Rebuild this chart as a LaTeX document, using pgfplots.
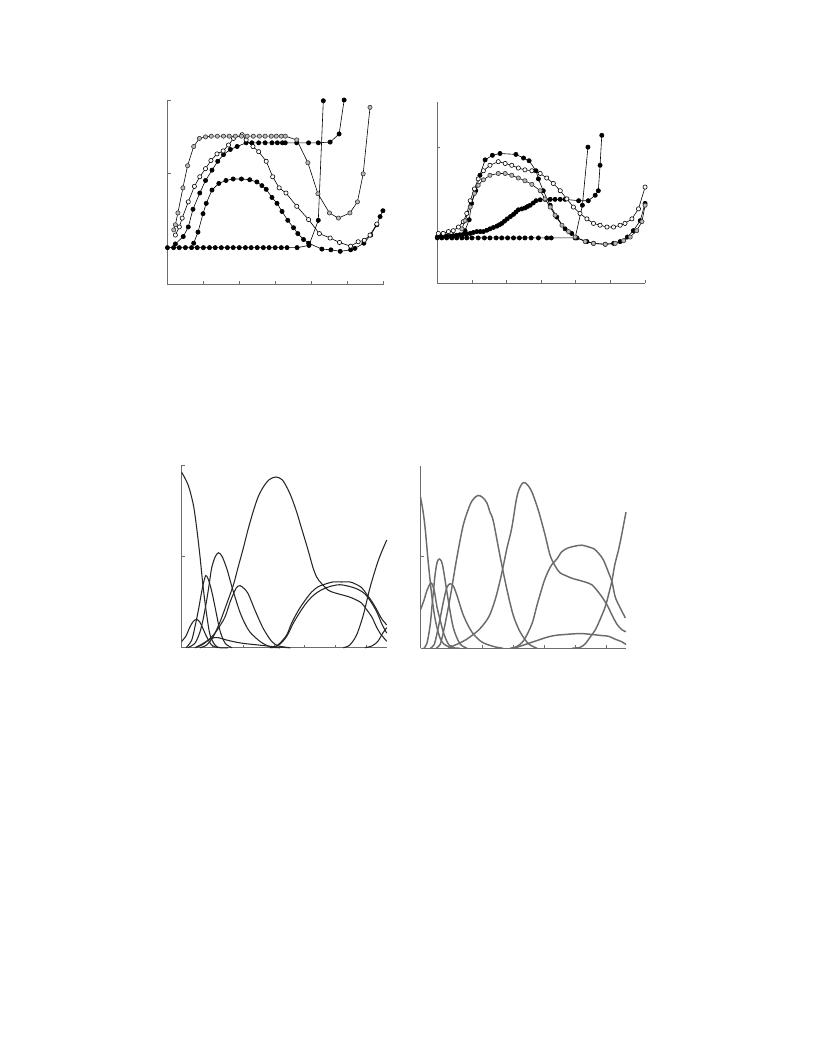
\documentclass[border=0pt]{standalone}
\usepackage{pgfplots}
\pgfplotsset{compat=1.18}

\pgfplotsset{
  panel/.style={
    scale only axis, anchor=south west,
    axis x line=bottom, axis y line=left,
    axis line style={-, draw=gray!85!black, line width=0.6pt},
    every outer x axis line/.append style={-},
    every outer y axis line/.append style={-},
    tick align=inside, major tick length=2.3pt,
    tick style={draw=gray!85!black, line width=0.6pt},
    xticklabels={}, yticklabels={},
    clip=false,
  },
  blk/.style={black, line width=0.45pt, mark=*, mark size=1.6pt, mark options={fill=black, draw=black}},
  wht/.style={black, line width=0.45pt, mark=*, mark size=1.6pt, mark options={fill=white, draw=black}},
  gry/.style={black, line width=0.45pt, mark=*, mark size=1.6pt, mark options={fill=gray!55, draw=black!80}},
  dk/.style={black!85, line width=0.8pt, smooth, no marks},
  lt/.style={black!58, line width=1.1pt, smooth, no marks},
}

\begin{document}
\begin{tikzpicture}
\path[use as bounding box] (0,0) rectangle (612bp,-792bp);

% top left
\begin{axis}[panel, at={(125.6bp,-213.4bp)}, width=161.6bp, height=138.4bp,
  xmin=0, xmax=6, ymin=-0.5, ymax=2, xtick={0,...,6}, ytick={0,1,2}]
\addplot[blk] coordinates {
 (0,0) (0.17,0) (0.33,0) (0.5,0) (0.67,0) (0.83,0) (1,0) (1.17,0) (1.33,0) (1.5,0)
 (1.67,0) (1.83,0) (2,0) (2.17,0) (2.33,0) (2.5,0) (2.67,0) (2.83,0) (3,0) (3.17,0)
 (3.33,0) (3.61,0) (3.94,0.03) (4.2,0.37) (4.34,1.99)};
\addplot[blk] coordinates {
 (0.22,0.05) (0.44,0.15) (0.58,0.28) (0.71,0.52) (0.90,0.74) (1.06,0.91) (1.24,1.05)
 (1.40,1.17) (1.56,1.26) (1.75,1.33) (1.94,1.37) (2.19,1.42) (2.35,1.42) (2.54,1.42)
 (2.72,1.42) (2.91,1.42) (3.06,1.42) (3.20,1.42) (3.28,1.42) (3.60,1.42) (3.93,1.42)
 (4.20,1.42) (4.53,1.43) (4.78,1.54) (4.92,2.0)};
\addplot[blk] coordinates {
 (0.73,0.06) (0.85,0.21) (0.99,0.46) (1.08,0.60) (1.24,0.78) (1.43,0.87) (1.63,0.91)
 (1.83,0.93) (2.06,0.93) (2.29,0.92) (2.49,0.89) (2.63,0.84) (2.75,0.79) (2.91,0.68)
 (3.05,0.60) (3.19,0.49) (3.35,0.37) (3.51,0.27) (3.63,0.19) (3.79,0.11) (3.93,0.06)
 (4.30,-0.02) (4.55,-0.03) (4.81,-0.05) (5.10,-0.03) (5.22,-0.01) (5.47,0.06)
 (5.66,0.17) (5.83,0.31) (5.92,0.42) (6.0,0.50)};
\addplot[wht] coordinates {
 (0.22,0.17) (0.33,0.28) (0.41,0.40) (0.58,0.62) (0.75,0.83) (0.90,0.96) (1.06,1.07)
 (1.21,1.18) (1.38,1.27) (1.55,1.31) (1.70,1.39) (1.84,1.48) (2.08,1.53) (2.19,1.46)
 (2.38,1.37) (2.54,1.30) (2.75,1.17) (2.93,0.96) (3.11,0.81) (3.30,0.74) (3.60,0.56)
 (3.93,0.38) (4.23,0.19) (4.53,0.13) (4.79,0.07) (5.10,0.02) (5.31,0.08) (5.48,0.10)
 (5.64,0.17) (5.83,0.32)};
\addplot[gry] coordinates {
 (0.175,0.24) (0.22,0.31) (0.29,0.47) (0.43,0.81) (0.56,1.11) (0.73,1.37) (0.89,1.48)
 (1.06,1.50) (1.22,1.51) (1.39,1.51) (1.56,1.51) (1.72,1.51) (1.89,1.51) (2.06,1.51)
 (2.22,1.51) (2.39,1.51) (2.56,1.51) (2.72,1.51) (2.89,1.51) (3.03,1.51) (3.17,1.51)
 (3.28,1.51) (3.60,1.46) (3.91,1.15) (4.19,0.73) (4.51,0.47) (4.76,0.40) (5.08,0.47)
 (5.29,0.62) (5.45,1.0) (5.64,1.90)};
\end{axis}

% top right
\begin{axis}[panel, at={(328bp,-212.5bp)}, width=155.8bp, height=136.2bp,
  xmin=0, xmax=6, ymin=-0.5, ymax=1.5, xtick={0,...,6}, ytick={0,1}]
\addplot[blk] coordinates {
 (0,0) (0.13,0) (0.27,0) (0.42,0) (0.56,0) (0.71,0) (0.85,0) (1.0,0) (1.18,0) (1.36,0)
 (1.52,0) (1.70,0) (1.86,0) (2.03,0) (2.2,0) (2.37,0) (2.53,0) (2.71,0) (2.92,0)
 (3.16,0) (3.29,0) (3.98,0) (4.19,0.36) (4.35,1.0)};
\addplot[blk] coordinates {
 (0,0.01) (0.09,0.015) (0.17,0.02) (0.27,0.02) (0.37,0.02) (0.46,0.025) (0.56,0.03)
 (0.65,0.035) (0.75,0.04) (0.85,0.045) (0.95,0.05) (1.04,0.06) (1.14,0.07) (1.24,0.07)
 (1.33,0.07) (1.43,0.085) (1.52,0.10) (1.62,0.115) (1.72,0.13) (1.79,0.145) (1.86,0.16)
 (1.94,0.185) (2.02,0.21) (2.11,0.235) (2.20,0.26) (2.27,0.285) (2.34,0.31) (2.44,0.32)
 (2.53,0.33) (2.60,0.345) (2.68,0.36) (2.77,0.385) (2.85,0.41) (2.97,0.42) (3.11,0.425)
 (3.26,0.425) (3.40,0.425) (3.55,0.425) (3.69,0.425) (4.08,0.41) (4.36,0.41) (4.56,0.47)
 (4.65,0.52) (4.70,0.80) (4.75,1.13)};
\addplot[blk] coordinates {
 (0.80,0.08) (0.92,0.20) (0.99,0.38) (1.11,0.52) (1.23,0.69) (1.38,0.86) (1.59,0.91)
 (1.81,0.93) (2.27,0.92) (2.49,0.88) (2.65,0.85) (2.85,0.74) (2.92,0.65) (3.06,0.52)
 (3.26,0.36) (3.45,0.23) (3.69,0.10) (3.88,0.05) (4.03,0.0) (4.32,-0.04) (4.51,-0.06)
 (4.85,-0.07) (5.09,-0.06) (5.28,-0.04) (5.49,0.01) (5.66,0.08) (5.86,0.19) (6.0,0.38)};
\addplot[wht] coordinates {
 (0.03,0.05) (0.17,0.05) (0.32,0.07) (0.46,0.08) (0.61,0.12) (0.75,0.18) (0.85,0.27)
 (0.95,0.41) (1.07,0.54) (1.18,0.65) (1.33,0.74) (1.52,0.80) (1.76,0.84) (1.96,0.82)
 (2.15,0.80) (2.34,0.77) (2.53,0.75) (2.73,0.74) (2.97,0.71) (3.16,0.66) (3.35,0.60)
 (3.55,0.52) (3.74,0.43) (3.93,0.34) (4.12,0.27) (4.32,0.21) (4.51,0.16) (4.70,0.14)
 (4.90,0.12) (5.09,0.12) (5.28,0.14) (5.42,0.16) (5.62,0.21) (5.81,0.32) (6.0,0.56)};
\addplot[gry] coordinates {
 (0.71,0.10) (0.80,0.19) (0.95,0.34) (1.07,0.49) (1.18,0.58) (1.33,0.64) (1.52,0.69)
 (1.76,0.71) (1.96,0.71) (2.15,0.69) (2.34,0.66) (2.53,0.63) (2.73,0.59) (2.97,0.52)
 (3.11,0.43) (3.26,0.34) (3.40,0.25) (3.60,0.14) (3.79,0.07) (3.98,0.01) (4.27,-0.04)
 (4.51,-0.06) (4.85,-0.07) (5.14,-0.06) (5.38,-0.03) (5.57,0.01) (5.76,0.08) (5.91,0.18)
 (6.0,0.36)};
\end{axis}

% bottom left
\begin{axis}[panel, at={(136.3bp,-485.8bp)}, width=154bp, height=137bp,
  xmin=0, xmax=6.67, ymin=0, ymax=2, xtick={1,...,6}, ytick={0,1,2}]
\addplot[dk] coordinates {(0,1.92) (0.21,1.78) (0.38,1.56) (0.49,1.30) (0.59,1.01)
 (0.70,0.65) (0.81,0.36) (0.92,0.14) (1.08,0.03) (1.24,0) (1.5,0)};
\addplot[dk] coordinates {(0,0.07) (0.14,0.13) (0.27,0.23) (0.38,0.29) (0.49,0.31)
 (0.59,0.28) (0.69,0.21) (0.81,0.12) (0.97,0.03) (1.18,0)};
\addplot[dk] coordinates {(0.14,0) (0.32,0.08) (0.43,0.23) (0.54,0.41) (0.63,0.58)
 (0.70,0.70) (0.78,0.79) (0.85,0.76) (0.92,0.69) (1.0,0.58) (1.08,0.45) (1.24,0.19)
 (1.41,0.05) (1.63,0)};
\addplot[dk] coordinates {(0.2,0) (0.43,0.05) (0.59,0.17) (0.70,0.32) (0.81,0.52)
 (0.89,0.69) (0.97,0.87) (1.08,0.99) (1.19,1.04) (1.31,1.0) (1.46,0.87) (1.57,0.74)
 (1.68,0.61) (1.89,0.39) (2.06,0.26) (2.22,0.17) (2.54,0.07) (2.87,0.01) (3.19,0)};
\addplot[dk] coordinates {(0.43,0) (0.65,0.03) (0.85,0.08) (1.08,0.16) (1.24,0.24)
 (1.41,0.34) (1.57,0.50) (1.68,0.59) (1.78,0.66) (1.89,0.68) (2.02,0.65) (2.16,0.59)
 (2.38,0.41) (2.65,0.21) (2.92,0.07) (3.14,0.02) (3.52,0)};
\addplot[dk] coordinates {(0.59,0) (0.81,0.03) (1.02,0.12) (1.24,0.28) (1.46,0.48)
 (1.68,0.69) (1.83,0.88) (2.0,1.09) (2.15,1.29) (2.32,1.49) (2.48,1.65) (2.65,1.76)
 (2.84,1.84) (3.06,1.87) (3.26,1.84) (3.41,1.76) (3.56,1.65) (3.73,1.49) (3.89,1.31)
 (4.06,1.12) (4.17,0.99) (4.27,0.87) (4.39,0.77) (4.55,0.70) (4.76,0.63) (4.98,0.60)
 (5.41,0.56) (5.63,0.53) (5.84,0.49) (6.0,0.42) (6.17,0.34) (6.31,0.24) (6.44,0.16)
 (6.66,0.07)};
\addplot[dk] coordinates {(2.87,0) (3.03,0.01) (3.19,0.05) (3.41,0.14) (3.57,0.27)
 (3.79,0.41) (4.01,0.52) (4.22,0.61) (4.44,0.67) (4.69,0.70) (4.91,0.72) (5.19,0.72)
 (5.46,0.72) (5.63,0.70) (5.84,0.66) (6.0,0.59) (6.15,0.52) (6.28,0.45) (6.49,0.32)
 (6.66,0.25)};
\addplot[dk] coordinates {(2.93,0) (3.19,0.04) (3.42,0.13) (3.61,0.26) (3.84,0.39)
 (4.07,0.50) (4.30,0.58) (4.52,0.63) (4.81,0.67) (5.13,0.69) (5.46,0.67) (5.72,0.64)
 (5.95,0.59) (6.15,0.50) (6.34,0.39) (6.50,0.26) (6.66,0.16)};
\addplot[dk] coordinates {(5.25,0) (5.46,0.03) (5.68,0.14) (5.90,0.36) (6.11,0.65)
 (6.33,0.90) (6.47,1.03) (6.66,1.18)};
\addplot[dk] coordinates {(5.95,0) (6.18,0.02) (6.37,0.07) (6.53,0.16) (6.66,0.22)};
\addplot[dk] coordinates {(0.43,0) (0.66,0.04) (0.85,0.08) (1.05,0.11) (1.19,0.11)
 (1.51,0.08) (1.95,0.05) (2.49,0.03) (3.03,0.01) (3.52,0)};
\end{axis}

% bottom right
\begin{axis}[panel, at={(315.4bp,-486.2bp)}, width=154.1bp, height=136.7bp,
  xmin=0, xmax=6.63, ymin=0, ymax=1.98, xtick={1,...,6}, ytick={0,1,2}]
\addplot[lt] coordinates {(0,1.64) (0.08,1.49) (0.15,1.30) (0.25,0.93) (0.36,0.58)
 (0.45,0.36) (0.52,0.24) (0.63,0.11) (0.74,0.05) (0.95,0.01) (1.27,0)};
\addplot[lt] coordinates {(0,0.42) (0.11,0.52) (0.21,0.63) (0.34,0.71) (0.44,0.63)
 (0.53,0.45) (0.63,0.31) (0.75,0.16) (0.91,0.04) (1.11,0)};
\addplot[lt] coordinates {(0.11,0) (0.21,0.06) (0.31,0.25) (0.39,0.53) (0.47,0.80)
 (0.54,0.94) (0.61,0.97) (0.68,0.94) (0.74,0.85) (0.90,0.51) (1.06,0.22) (1.27,0.05)
 (1.50,0)};
\addplot[lt] coordinates {(0.31,0) (0.44,0.04) (0.57,0.22) (0.74,0.51) (0.85,0.66)
 (0.95,0.70) (1.05,0.68) (1.17,0.58) (1.38,0.36) (1.65,0.18) (1.97,0.07) (2.35,0.02)
 (2.66,0)};
\addplot[lt] coordinates {(0.5,0) (0.63,0.04) (0.74,0.18) (0.95,0.54) (1.17,0.98)
 (1.38,1.34) (1.60,1.56) (1.73,1.63) (1.86,1.66) (2.0,1.64) (2.14,1.58) (2.24,1.48)
 (2.35,1.38) (2.56,1.01) (2.78,0.65) (2.99,0.36) (3.21,0.18) (3.48,0.05) (3.76,0)};
\addplot[lt] coordinates {(0.89,0) (1.02,0.02) (1.45,0.09) (1.88,0.20) (2.20,0.34)
 (2.41,0.53) (2.57,0.74) (2.68,0.91) (2.79,1.09) (2.94,1.30) (3.10,1.63) (3.21,1.75)
 (3.32,1.80) (3.44,1.78) (3.59,1.70) (3.80,1.50) (4.02,1.23) (4.18,1.01) (4.35,0.89)
 (4.50,0.82) (4.68,0.79) (4.89,0.76) (5.10,0.74) (5.31,0.72) (5.53,0.69) (5.69,0.63)
 (5.85,0.56) (6.02,0.47) (6.18,0.36) (6.34,0.26) (6.50,0.20) (6.63,0.18)};
\addplot[lt] coordinates {(2.89,0) (3.11,0.02) (3.34,0.09) (3.60,0.27) (3.76,0.47)
 (3.97,0.71) (4.11,0.83) (4.24,0.91) (4.40,0.97) (4.56,1.05) (4.76,1.09) (4.99,1.11)
 (5.21,1.12) (5.43,1.10) (5.60,1.08) (5.75,1.03) (5.90,0.96) (6.07,0.82) (6.18,0.72)
 (6.28,0.56) (6.44,0.44) (6.61,0.33)};
\addplot[lt] coordinates {(3.01,0) (3.37,0.04) (3.81,0.09) (4.08,0.12) (4.35,0.14)
 (4.67,0.15) (5.15,0.16) (5.53,0.15) (5.79,0.14) (6.07,0.13) (6.27,0.10) (6.50,0.07)
 (6.63,0.04)};
\addplot[lt] coordinates {(4.89,0) (5.15,0.01) (5.32,0.05) (5.47,0.12) (5.64,0.20)
 (5.79,0.31) (5.96,0.45) (6.08,0.60) (6.18,0.74) (6.27,0.91) (6.39,1.07) (6.50,1.25)
 (6.63,1.48)};
\end{axis}
\end{tikzpicture}
\end{document}
